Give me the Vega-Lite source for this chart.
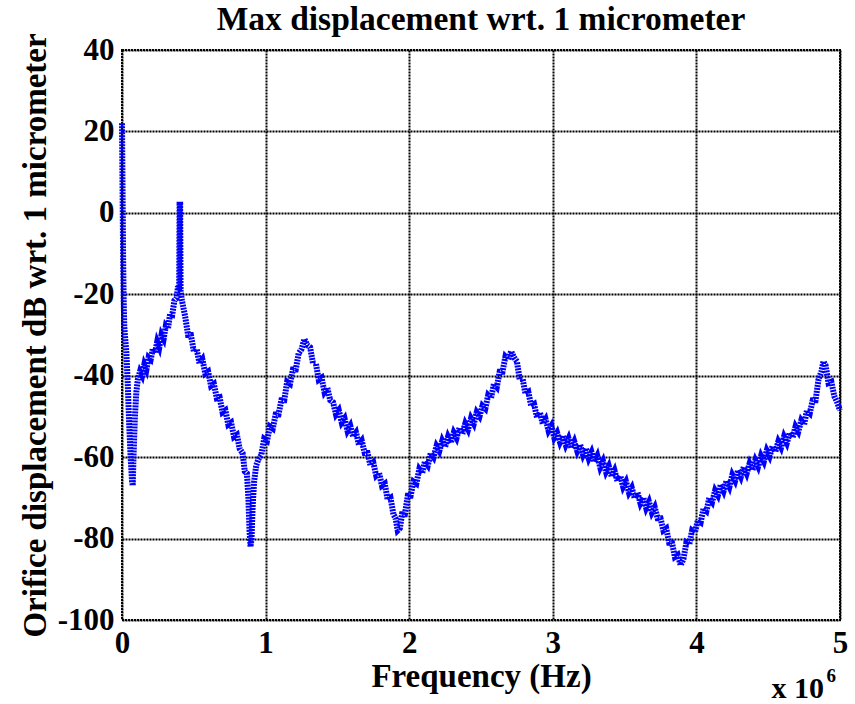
{
  "$schema": "https://vega.github.io/schema/vega-lite/v6.json",
  "width": 718,
  "height": 570,
  "autosize": {"type": "none"},
  "padding": {"left": 122, "top": 50, "right": 15, "bottom": 84},
  "background": "white",
  "title": {
    "text": "Max displacement wrt. 1 micrometer",
    "font": "Liberation Serif",
    "fontSize": 33.5,
    "fontWeight": "bold",
    "color": "black",
    "anchor": "middle",
    "frame": "group",
    "baseline": "alphabetic",
    "offset": -31
  },
  "layer": [
    {
      "data": {
        "values": [
          {"f": 0.0, "db": 22}, {"f": 0.004, "db": 5}, {"f": 0.008, "db": -12}, {"f": 0.012, "db": -22},
          {"f": 0.016, "db": -28}, {"f": 0.02, "db": -30}, {"f": 0.03, "db": -34}, {"f": 0.04, "db": -42},
          {"f": 0.05, "db": -52}, {"f": 0.06, "db": -60}, {"f": 0.07, "db": -66}, {"f": 0.075, "db": -67},
          {"f": 0.08, "db": -60}, {"f": 0.09, "db": -50}, {"f": 0.1, "db": -44}, {"f": 0.11, "db": -41},
          {"f": 0.125, "db": -39}, {"f": 0.14, "db": -40}, {"f": 0.155, "db": -37.3}, {"f": 0.17, "db": -38.5},
          {"f": 0.185, "db": -35.5}, {"f": 0.2, "db": -36}, {"f": 0.215, "db": -33.3}, {"f": 0.23, "db": -34.5},
          {"f": 0.245, "db": -31.7}, {"f": 0.26, "db": -33}, {"f": 0.275, "db": -30}, {"f": 0.29, "db": -31},
          {"f": 0.305, "db": -27.8}, {"f": 0.32, "db": -28.5}, {"f": 0.335, "db": -24.8}, {"f": 0.35, "db": -25},
          {"f": 0.365, "db": -21.5}, {"f": 0.38, "db": -21}, {"f": 0.39, "db": -18}, {"f": 0.398, "db": -19},
          {"f": 0.401, "db": 2}, {"f": 0.405, "db": 2}, {"f": 0.408, "db": -19}, {"f": 0.415, "db": -21},
          {"f": 0.42, "db": -22}, {"f": 0.44, "db": -25.5}, {"f": 0.46, "db": -30}, {"f": 0.48, "db": -30},
          {"f": 0.5, "db": -34}, {"f": 0.52, "db": -33.5}, {"f": 0.54, "db": -37}, {"f": 0.56, "db": -36},
          {"f": 0.58, "db": -39.5}, {"f": 0.6, "db": -39}, {"f": 0.62, "db": -42.5}, {"f": 0.64, "db": -42},
          {"f": 0.66, "db": -45.5}, {"f": 0.68, "db": -45.3}, {"f": 0.7, "db": -49}, {"f": 0.72, "db": -48.5},
          {"f": 0.74, "db": -52}, {"f": 0.76, "db": -51.5}, {"f": 0.78, "db": -55}, {"f": 0.8, "db": -54.5},
          {"f": 0.82, "db": -58}, {"f": 0.84, "db": -59}, {"f": 0.855, "db": -63.5}, {"f": 0.87, "db": -64},
          {"f": 0.88, "db": -70}, {"f": 0.888, "db": -78}, {"f": 0.895, "db": -82}, {"f": 0.902, "db": -80},
          {"f": 0.91, "db": -72}, {"f": 0.92, "db": -66}, {"f": 0.935, "db": -62}, {"f": 0.95, "db": -60.5},
          {"f": 0.97, "db": -59.5}, {"f": 0.99, "db": -55.5}, {"f": 1.01, "db": -56}, {"f": 1.03, "db": -52.5},
          {"f": 1.05, "db": -53}, {"f": 1.07, "db": -49.5}, {"f": 1.09, "db": -49.5}, {"f": 1.11, "db": -46},
          {"f": 1.13, "db": -46}, {"f": 1.15, "db": -41.5}, {"f": 1.17, "db": -42}, {"f": 1.19, "db": -38.5},
          {"f": 1.21, "db": -38.5}, {"f": 1.23, "db": -34.5}, {"f": 1.25, "db": -33.5}, {"f": 1.27, "db": -31},
          {"f": 1.29, "db": -32.5}, {"f": 1.31, "db": -33}, {"f": 1.33, "db": -37}, {"f": 1.35, "db": -37},
          {"f": 1.37, "db": -41}, {"f": 1.39, "db": -40.5}, {"f": 1.41, "db": -44}, {"f": 1.43, "db": -43},
          {"f": 1.45, "db": -46}, {"f": 1.47, "db": -46.5}, {"f": 1.49, "db": -49.5}, {"f": 1.51, "db": -48.5},
          {"f": 1.53, "db": -51.5}, {"f": 1.55, "db": -50.5}, {"f": 1.57, "db": -53.5}, {"f": 1.59, "db": -52.3},
          {"f": 1.61, "db": -55}, {"f": 1.63, "db": -54}, {"f": 1.65, "db": -57}, {"f": 1.67, "db": -56},
          {"f": 1.69, "db": -59}, {"f": 1.71, "db": -59}, {"f": 1.73, "db": -62}, {"f": 1.75, "db": -61.3},
          {"f": 1.77, "db": -64.5}, {"f": 1.79, "db": -63.8}, {"f": 1.81, "db": -67}, {"f": 1.83, "db": -66.5},
          {"f": 1.85, "db": -70.5}, {"f": 1.87, "db": -70}, {"f": 1.89, "db": -74}, {"f": 1.905, "db": -75},
          {"f": 1.92, "db": -78}, {"f": 1.935, "db": -77.5}, {"f": 1.95, "db": -74}, {"f": 1.97, "db": -74},
          {"f": 1.99, "db": -69.5}, {"f": 2.01, "db": -69.5}, {"f": 2.03, "db": -66}, {"f": 2.05, "db": -66.5},
          {"f": 2.07, "db": -63}, {"f": 2.09, "db": -64}, {"f": 2.11, "db": -61}, {"f": 2.13, "db": -62},
          {"f": 2.15, "db": -59}, {"f": 2.17, "db": -60}, {"f": 2.19, "db": -57.3}, {"f": 2.21, "db": -58.5},
          {"f": 2.23, "db": -56}, {"f": 2.25, "db": -57.5}, {"f": 2.27, "db": -55}, {"f": 2.29, "db": -56.5},
          {"f": 2.31, "db": -54}, {"f": 2.33, "db": -55.3}, {"f": 2.35, "db": -52.8}, {"f": 2.37, "db": -54.3},
          {"f": 2.39, "db": -51.8}, {"f": 2.41, "db": -53.2}, {"f": 2.43, "db": -50.5}, {"f": 2.45, "db": -51.8},
          {"f": 2.47, "db": -49}, {"f": 2.49, "db": -50}, {"f": 2.51, "db": -47.4}, {"f": 2.53, "db": -48.1},
          {"f": 2.55, "db": -44.8}, {"f": 2.57, "db": -45.5}, {"f": 2.59, "db": -42}, {"f": 2.61, "db": -42.8},
          {"f": 2.63, "db": -39}, {"f": 2.65, "db": -39}, {"f": 2.67, "db": -35.3}, {"f": 2.69, "db": -36},
          {"f": 2.71, "db": -34}, {"f": 2.73, "db": -35.5}, {"f": 2.75, "db": -36.5}, {"f": 2.77, "db": -41},
          {"f": 2.79, "db": -40.8}, {"f": 2.81, "db": -44.5}, {"f": 2.83, "db": -44}, {"f": 2.85, "db": -47.5},
          {"f": 2.87, "db": -47}, {"f": 2.89, "db": -50.3}, {"f": 2.91, "db": -49}, {"f": 2.93, "db": -51.8},
          {"f": 2.95, "db": -50.7}, {"f": 2.97, "db": -53.5}, {"f": 2.99, "db": -52.3}, {"f": 3.01, "db": -55.2},
          {"f": 3.03, "db": -54}, {"f": 3.05, "db": -56.3}, {"f": 3.07, "db": -54.7}, {"f": 3.09, "db": -57},
          {"f": 3.11, "db": -55.4}, {"f": 3.13, "db": -57.8}, {"f": 3.15, "db": -56.2}, {"f": 3.17, "db": -58.5},
          {"f": 3.19, "db": -56.9}, {"f": 3.21, "db": -59.4}, {"f": 3.23, "db": -57.8}, {"f": 3.25, "db": -60.3},
          {"f": 3.27, "db": -58.8}, {"f": 3.29, "db": -61.2}, {"f": 3.31, "db": -59.7}, {"f": 3.33, "db": -62.5},
          {"f": 3.35, "db": -61}, {"f": 3.37, "db": -63.6}, {"f": 3.39, "db": -62.2}, {"f": 3.41, "db": -64.8},
          {"f": 3.43, "db": -63.3}, {"f": 3.45, "db": -65.9}, {"f": 3.47, "db": -64.6}, {"f": 3.49, "db": -67.3},
          {"f": 3.51, "db": -66}, {"f": 3.53, "db": -68.7}, {"f": 3.55, "db": -67.5}, {"f": 3.57, "db": -70.1},
          {"f": 3.59, "db": -68.7}, {"f": 3.61, "db": -71.3}, {"f": 3.63, "db": -69.9}, {"f": 3.65, "db": -72.5},
          {"f": 3.67, "db": -71}, {"f": 3.69, "db": -73.6}, {"f": 3.71, "db": -72.3}, {"f": 3.73, "db": -75},
          {"f": 3.75, "db": -75}, {"f": 3.77, "db": -78}, {"f": 3.79, "db": -77.5}, {"f": 3.81, "db": -81},
          {"f": 3.83, "db": -81}, {"f": 3.85, "db": -84.5}, {"f": 3.87, "db": -84}, {"f": 3.89, "db": -86.5},
          {"f": 3.91, "db": -85}, {"f": 3.93, "db": -81}, {"f": 3.95, "db": -81.5}, {"f": 3.97, "db": -78},
          {"f": 3.99, "db": -78.5}, {"f": 4.01, "db": -75.5}, {"f": 4.03, "db": -76}, {"f": 4.05, "db": -72.5},
          {"f": 4.07, "db": -73.2}, {"f": 4.09, "db": -70}, {"f": 4.11, "db": -71}, {"f": 4.13, "db": -68.2},
          {"f": 4.15, "db": -69.4}, {"f": 4.17, "db": -66.7}, {"f": 4.19, "db": -68.3}, {"f": 4.21, "db": -65.8},
          {"f": 4.23, "db": -67.3}, {"f": 4.25, "db": -64.4}, {"f": 4.27, "db": -65.8}, {"f": 4.29, "db": -63.2},
          {"f": 4.31, "db": -64.8}, {"f": 4.33, "db": -62.4}, {"f": 4.35, "db": -64}, {"f": 4.37, "db": -61.6},
          {"f": 4.39, "db": -63.2}, {"f": 4.41, "db": -60.8}, {"f": 4.43, "db": -62.3}, {"f": 4.45, "db": -59.7},
          {"f": 4.47, "db": -61.1}, {"f": 4.49, "db": -58.4}, {"f": 4.51, "db": -59.8}, {"f": 4.53, "db": -57.3},
          {"f": 4.55, "db": -58.7}, {"f": 4.57, "db": -56.2}, {"f": 4.59, "db": -57.6}, {"f": 4.61, "db": -55},
          {"f": 4.63, "db": -56.5}, {"f": 4.65, "db": -54}, {"f": 4.67, "db": -55.2}, {"f": 4.69, "db": -52.5},
          {"f": 4.71, "db": -53.7}, {"f": 4.73, "db": -51}, {"f": 4.75, "db": -52}, {"f": 4.77, "db": -48.5},
          {"f": 4.79, "db": -49.2}, {"f": 4.81, "db": -46}, {"f": 4.83, "db": -46}, {"f": 4.85, "db": -41},
          {"f": 4.87, "db": -39}, {"f": 4.885, "db": -36.5}, {"f": 4.9, "db": -37.5}, {"f": 4.92, "db": -41.8},
          {"f": 4.94, "db": -41.5}, {"f": 4.96, "db": -45}, {"f": 4.98, "db": -46.5}, {"f": 5.0, "db": -48.5}
        ]
      },
      "mark": {"type": "line", "color": "#0000ff", "strokeWidth": 6, "strokeDash": [2, 1], "strokeJoin": "miter", "strokeCap": "butt"},
      "encoding": {
        "x": {
          "field": "f", "type": "quantitative",
          "scale": {"domain": [0, 5], "nice": false, "zero": false},
          "axis": {
            "title": "Frequency (Hz)", "values": [0, 1, 2, 3, 4, 5],
            "labelExpr": "datum.value < 0 ? '-' + abs(datum.value) : '' + datum.value",
            "labelFlush": false, "labelPadding": 8, "titlePadding": 2
          }
        },
        "y": {
          "field": "db", "type": "quantitative",
          "scale": {"domain": [-100, 40], "nice": false, "zero": false},
          "axis": {
            "title": "Orifice displacement dB wrt. 1 micrometer",
            "values": [-100, -80, -60, -40, -20, 0, 20, 40],
            "labelExpr": "datum.value < 0 ? '-' + abs(datum.value) : '' + datum.value",
            "labelFlush": false, "labelPadding": 8, "titlePadding": 5
          }
        }
      }
    },
    {
      "data": {"values": [{"label": "x 10"}]},
      "mark": {"type": "text", "font": "Liberation Serif", "fontWeight": "bold", "fontSize": 30, "color": "black", "align": "right", "baseline": "alphabetic", "dx": -16, "dy": 78},
      "encoding": {"x": {"datum": 5}, "y": {"datum": -100}, "text": {"field": "label"}}
    },
    {
      "data": {"values": [{"label": "6"}]},
      "mark": {"type": "text", "font": "Liberation Serif", "fontWeight": "bold", "fontSize": 19, "color": "black", "align": "right", "baseline": "alphabetic", "dx": -4, "dy": 62},
      "encoding": {"x": {"datum": 5}, "y": {"datum": -100}, "text": {"field": "label"}}
    }
  ],
  "config": {
    "view": {"stroke": "black", "strokeWidth": 2, "strokeDash": [2, 1]},
    "axis": {
      "grid": true, "gridColor": "black", "gridWidth": 2, "gridDash": [2, 1], "gridOpacity": 1,
      "domain": false, "ticks": false,
      "labelFont": "Liberation Serif", "labelFontWeight": "bold", "labelFontSize": 31, "labelColor": "black",
      "titleFont": "Liberation Serif", "titleFontWeight": "bold", "titleFontSize": 33, "titleColor": "black"
    }
  }
}
